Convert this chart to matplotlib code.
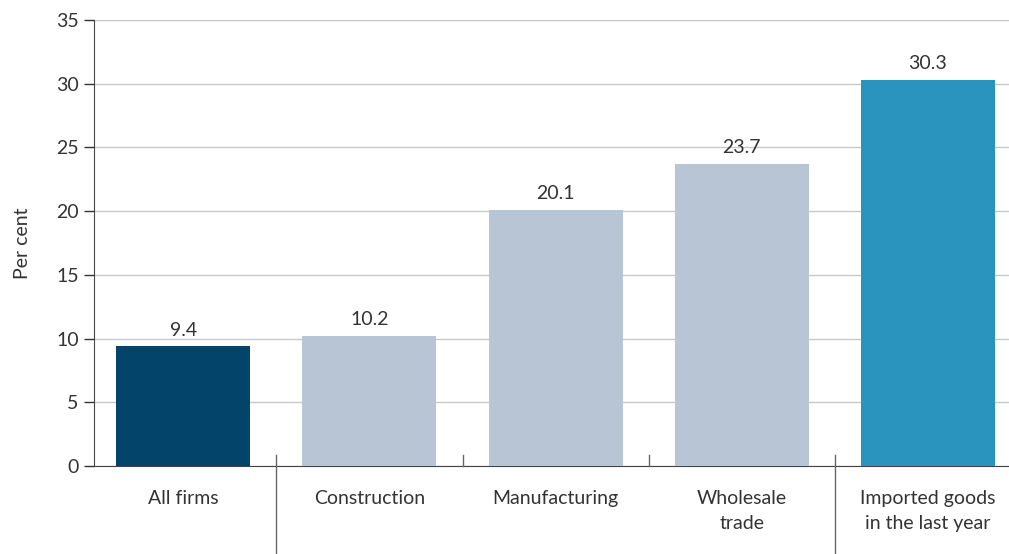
import matplotlib
matplotlib.use('Agg')
import matplotlib.pyplot as plt

plt.rcParams['font.family'] = ['Lato', 'DejaVu Sans']

categories = ['All firms', 'Construction', 'Manufacturing', 'Wholesale\ntrade', 'Imported goods\nin the last year']
values = [9.4, 10.2, 20.1, 23.7, 30.3]
value_labels = ['9.4', '10.2', '20.1', '23.7', '30.3']
colors = ['#03456A', '#B8C5D5', '#B8C5D5', '#B8C5D5', '#2A94BE']
yticks = [0, 5, 10, 15, 20, 25, 30, 35]

text_col = '#333333'

fig = plt.figure(figsize=(10.09, 5.54), dpi=100)
ax = fig.add_axes([94/1009, 88/554, 915/1009, 446/554])

x = list(range(len(categories)))
bars = ax.bar(x, values, width=0.72, color=colors, zorder=3)
for bar, lab in zip(bars, value_labels):
    ax.text(bar.get_x() + bar.get_width()/2, bar.get_height() + 0.6, lab,
            ha='center', va='bottom', fontsize=14, color=text_col)

ax.set_xlim(-0.48, 4.436)
ax.set_ylim(0, 35)
ax.set_yticks(yticks)
ax.tick_params(axis='y', length=7, width=1, color='#333333', labelsize=14, labelcolor=text_col, pad=4)
ax.set_xticks(x)
ax.set_xticklabels(categories, fontsize=14, color=text_col, linespacing=1.6)
ax.tick_params(axis='x', length=0, pad=17)
ax.grid(axis='y', color='#C8C8C8', linewidth=1, zorder=0)

for side in ['top', 'right']:
    ax.spines[side].set_visible(False)
ax.spines['left'].set_color('#444444')
ax.spines['bottom'].set_color('#444444')
ax.set_ylabel('Per cent', fontsize=14, color=text_col, labelpad=18)

# separators between categories
trans = ax.get_xaxis_transform()
for b in [0.5, 1.5, 2.5, 3.5]:
    if b in (0.5, 3.5):
        ax.plot([b, b], [0.025, -0.2], transform=trans, color='#666666', linewidth=1, clip_on=False, zorder=4)
    else:
        ax.plot([b, b], [0.025, 0], transform=trans, color='#666666', linewidth=1, clip_on=False, zorder=4)

fig.savefig('out.png', dpi=100)
